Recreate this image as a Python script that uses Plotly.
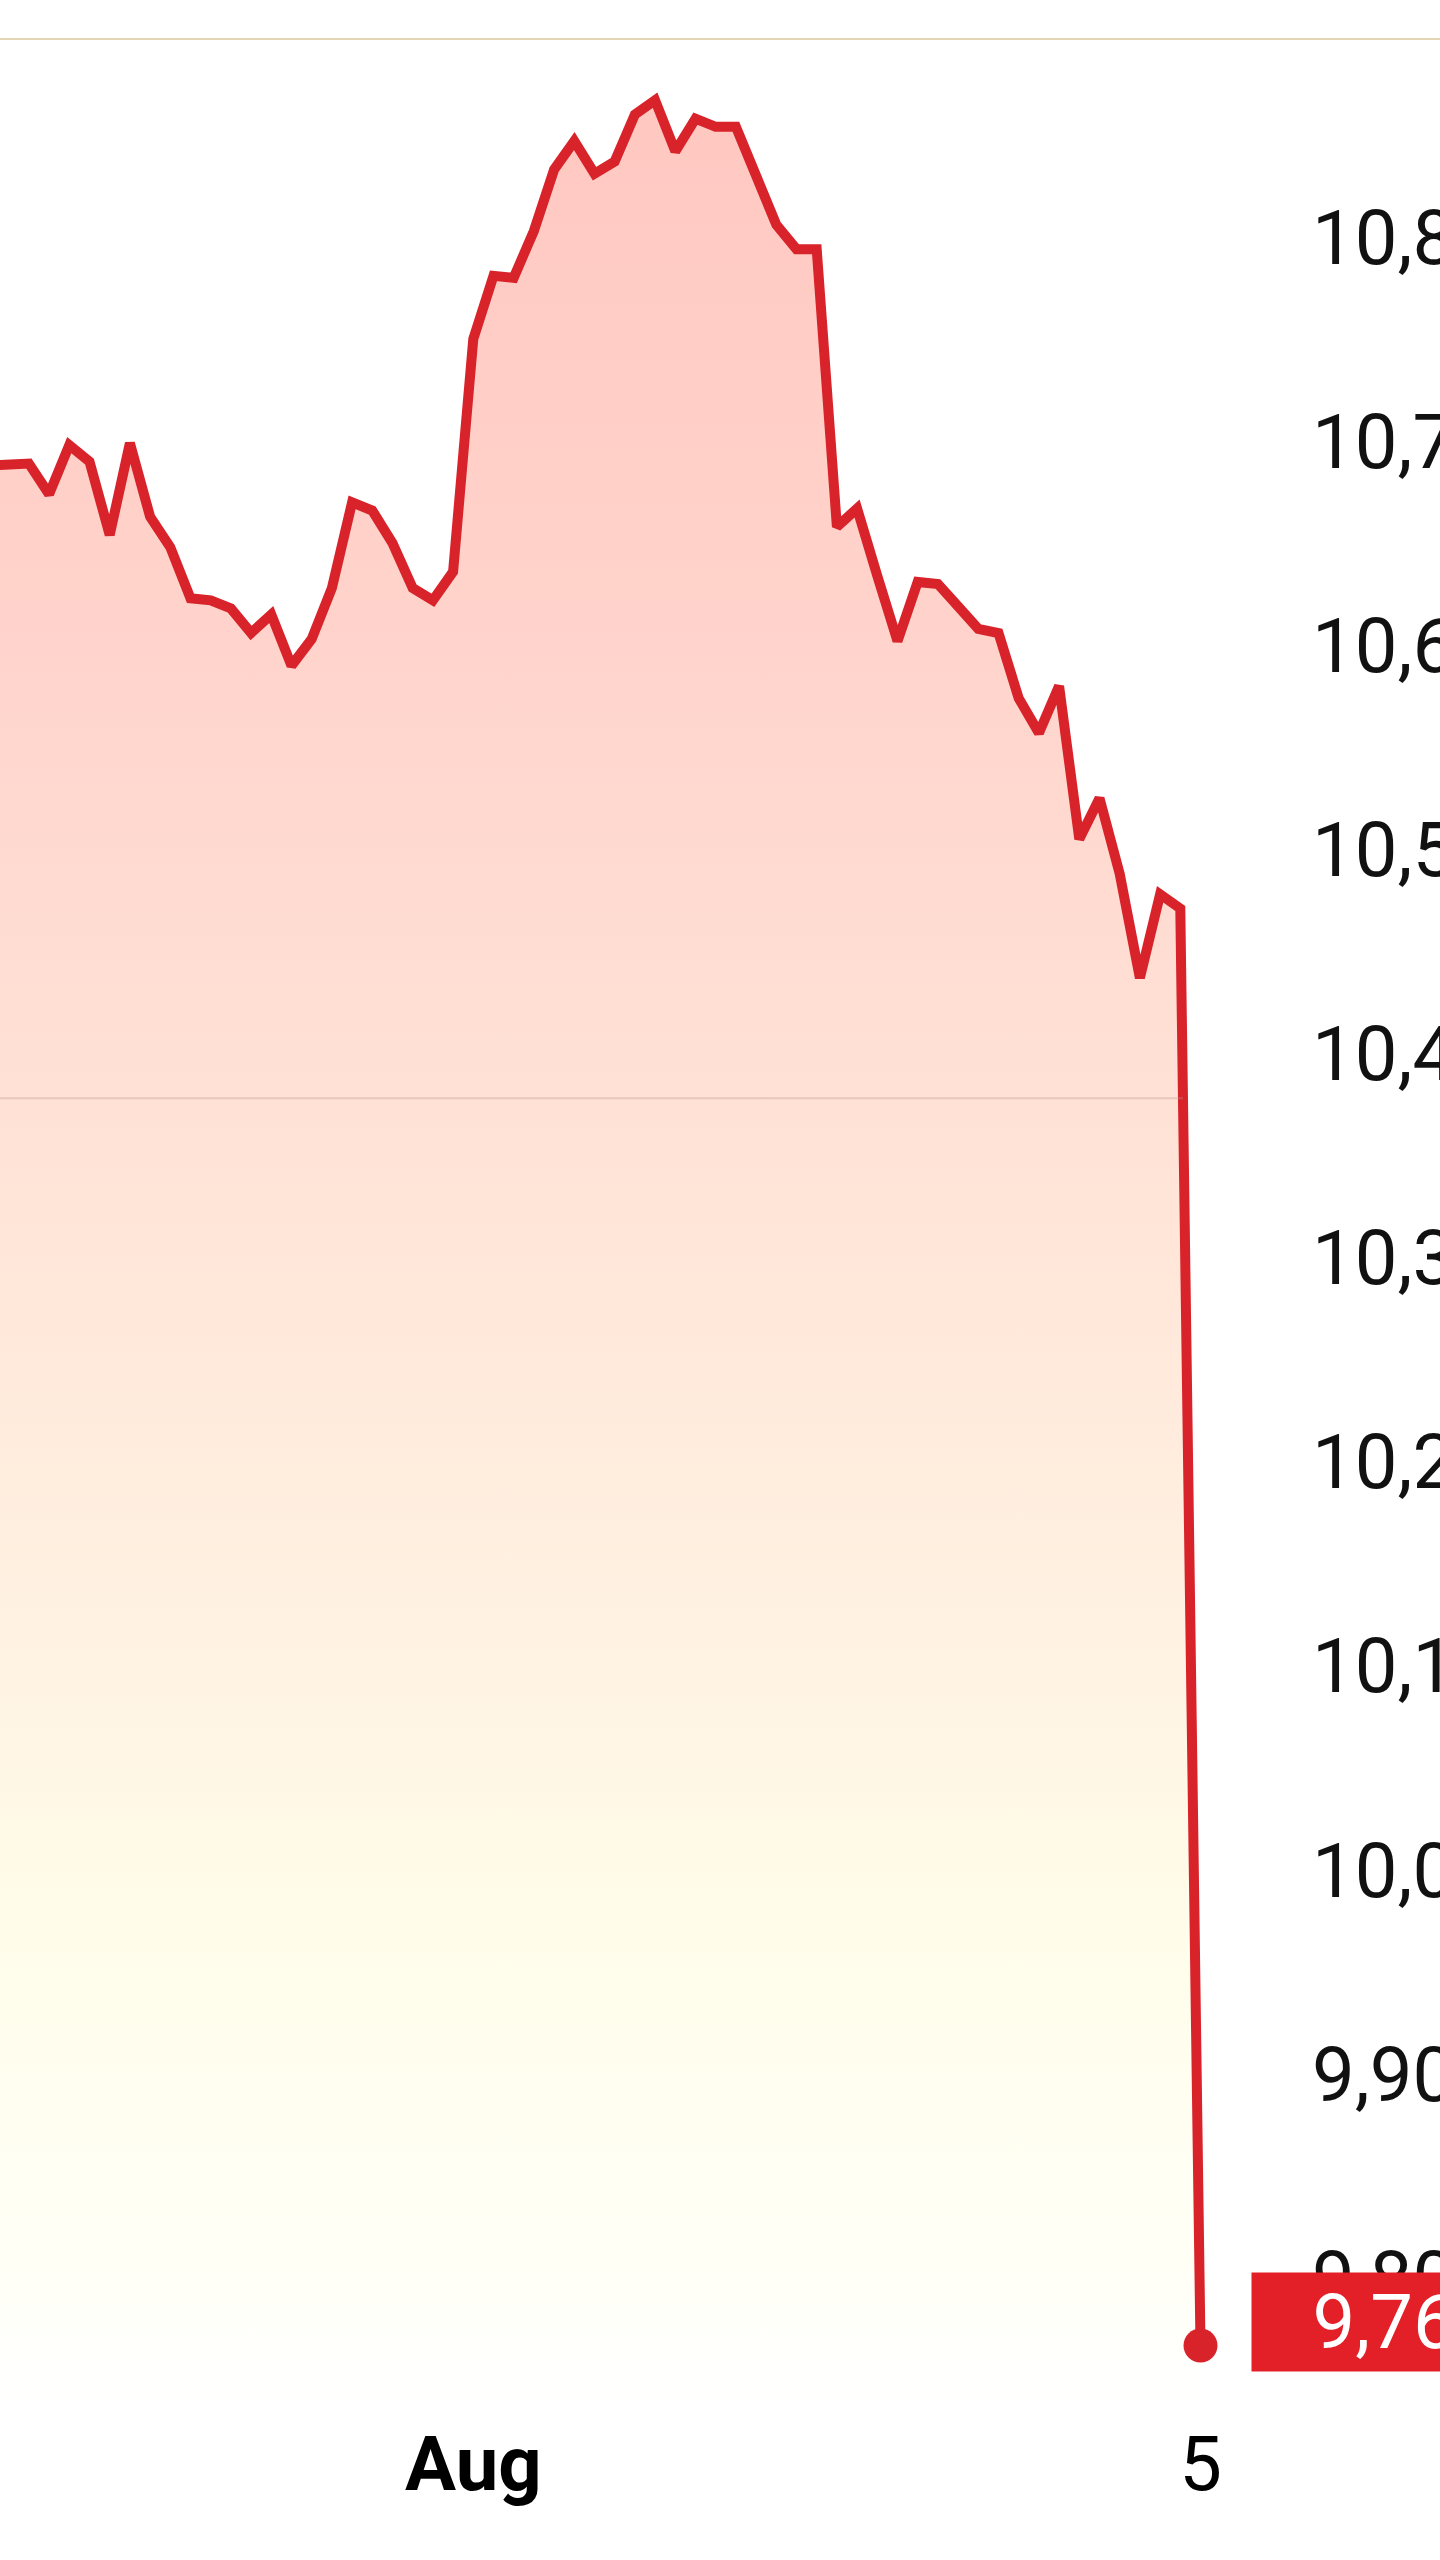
"""Intraday price line with gradient fill, last-price badge on the right axis."""

import plotly.graph_objects as go

# price points (trading-hour slots, oldest first); slot 21 opens August, slot 57 is the 5th
slots = list(range(-3, 58))
prices = [
    10.688, 10.688, 10.689, 10.674, 10.698, 10.690, 10.654, 10.699, 10.663, 10.648,
    10.623, 10.622, 10.618, 10.606, 10.615, 10.590, 10.603, 10.628, 10.670, 10.666,
    10.650, 10.628, 10.622, 10.636, 10.750, 10.781, 10.780, 10.803, 10.833, 10.847,
    10.831, 10.837, 10.860, 10.867, 10.842, 10.858, 10.854, 10.854, 10.830, 10.806,
    10.794, 10.794, 10.658, 10.667, 10.634, 10.602, 10.631, 10.630, 10.619, 10.608,
    10.606, 10.574, 10.557, 10.580, 10.505, 10.525, 10.488, 10.437, 10.478, 10.471,
    9.767,
]

x_tickvals = [21, 57]
x_ticktext = ["<b>Aug</b>", "5"]

y_tickvals = [9.8, 9.9, 10.0, 10.1, 10.2, 10.3, 10.4, 10.5, 10.6, 10.7, 10.8]
y_ticktext = ["9,80", "9,90", "10,00", "10,10", "10,20", "10,30",
              "10,40", "10,50", "10,60", "10,70", "10,80"]

last_label = "9,76"
band_level = 10.378

RED = "#d9232b"
BADGE = "#e32028"

fig = go.Figure()

fig.add_trace(
    go.Scatter(
        x=slots,
        y=prices,
        mode="lines",
        line={"color": RED, "width": 10},
        fill="tozeroy",
        fillgradient={
            "type": "vertical",
            "start": 9.74,
            "stop": 10.87,
            "colorscale": [
                [0.0, "#ffffff"],
                [0.06, "#fffff6"],
                [0.2, "#fffdea"],
                [0.32, "#fff3e3"],
                [0.57, "#ffe1d5"],
                [0.77, "#ffd3cb"],
                [1.0, "#ffc8c1"],
            ],
        },
        hoverinfo="skip",
        showlegend=False,
    )
)

fig.add_trace(
    go.Scatter(
        x=slots[-1:],
        y=prices[-1:],
        mode="markers",
        marker={"color": RED, "size": 34},
        cliponaxis=False,
        showlegend=False,
    )
)

# thin tan rule across the top of the widget
fig.add_shape(
    type="line", xref="paper", yref="paper",
    x0=0, x1=1.2, y0=1, y1=1,
    line={"color": "#e3d6b4", "width": 2},
)

# faint band line inside the fill
fig.add_shape(
    type="line", xref="x", yref="y",
    x0=slots[0], x1=56.13, y0=band_level, y1=band_level,
    line={"color": "rgba(185,150,140,0.35)", "width": 2},
)

fig.add_annotation(
    xref="paper", yref="y",
    x=1, y=prices[-1],
    xanchor="left", yanchor="middle",
    yshift=24,
    text="\u00a0\u00a0\u00a0" + last_label,
    showarrow=False,
    bgcolor=BADGE,
    borderpad=4,
    font={"family": "Roboto", "size": 76, "color": "white"},
)

fig.update_xaxes(
    range=[-2.43, 59.5],
    tickvals=x_tickvals,
    ticktext=x_ticktext,
    showgrid=False,
    zeroline=False,
    showline=False,
    ticks="",
    ticklabelstandoff=13,
    tickfont={"family": "Roboto", "size": 76, "color": "#000000"},
    automargin=False,
)
fig.update_yaxes(
    side="right",
    range=[9.7403, 10.897],
    tickvals=y_tickvals,
    ticktext=y_ticktext,
    showgrid=False,
    zeroline=False,
    showline=False,
    ticks="",
    ticklabelstandoff=60,
    tickfont={"family": "Roboto", "size": 76, "color": "#111111"},
    automargin=False,
)

fig.update_layout(
    width=1440,
    height=2560,
    margin={"l": 0, "r": 189, "t": 39, "b": 160},
    plot_bgcolor="white",
    paper_bgcolor="white",
    showlegend=False,
)

# page body margin would push the chart 8px off the window edge
fig.write_html(
    "out.html",
    config={"displayModeBar": False},
    post_script="document.body.style.margin = '0';",
)
